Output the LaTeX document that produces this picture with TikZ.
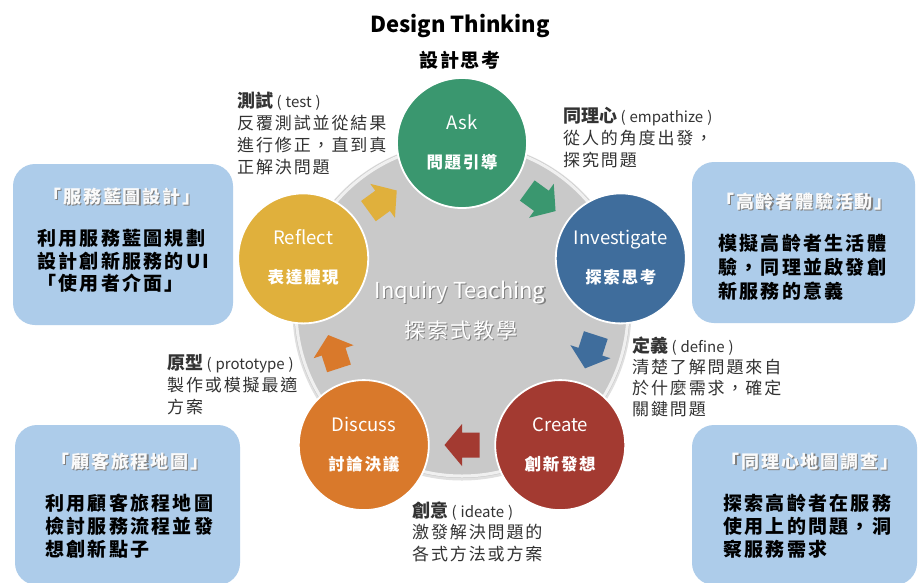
\documentclass[tikz,border=0pt]{standalone}
\usepackage{fontspec}
\setmainfont{Noto Sans CJK TC}[Script=CJK, Language=Chinese Traditional]
\newfontfamily\spcf[Script=CJK, Language=Chinese Traditional, LetterSpace=11]{Noto Sans CJK TC}
\newfontfamily\spcb[Script=CJK, Language=Chinese Traditional, LetterSpace=12]{Noto Sans CJK TC}
\newfontfamily\spct[Script=CJK, Language=Chinese Traditional, LetterSpace=10]{Noto Sans CJK TC}
\definecolor{askg}{HTML}{3A976F}
\definecolor{invb}{HTML}{3F6D9C}
\definecolor{crr}{HTML}{A33A31}
\definecolor{diso}{HTML}{D9792B}
\definecolor{refy}{HTML}{E0B03C}
\definecolor{ringg}{HTML}{C9C9C9}
\definecolor{boxb}{HTML}{ADCCEA}
\definecolor{descc}{HTML}{333333}
\newcommand\shd[2][black!50]{\makebox[0pt][l]{\hspace{1.2pt}\raisebox{-1.2pt}{\textcolor{#1}{#2}}}#2}
\tikzset{
  stage/.style={circle, draw=white, line width=1.8pt, minimum size=130pt, inner sep=0pt},
  latlbl/.style={anchor=base, text=white, inner sep=0pt, font=\fontsize{18.5}{20}\selectfont},
  cjklbl/.style={anchor=base, text=white, inner sep=0pt, font=\spct\bfseries\fontsize{16.5}{20}\selectfont},
  desc/.style={anchor=north west, align=left, inner sep=0pt, text=descc, font=\spcf\fontsize{17}{22}\selectfont},
  infobox/.style={rounded corners=22pt, fill=boxb, inner sep=0pt},
  boxtitle/.style={anchor=base, text=white!96!gray, inner sep=0pt, font=\spct\bfseries\fontsize{18}{20}\selectfont},
  boxbody/.style={anchor=north west, align=left, inner sep=0pt, text=black, font=\spcb\bfseries\fontsize{19}{23}\selectfont},
  pics/barrow/.style={code={\fill[#1] (-17.5,-12.5) -- (0,-12.5) -- (0,-21) -- (17.5,0) -- (0,21) -- (0,12.5) -- (-17.5,12.5) -- cycle;}}
}
\newcommand\hd[2]{{\rmfamily\bfseries\fontsize{18}{22}\selectfont #1}{\rmfamily\fontsize{15}{22}\selectfont\ (\hspace{4pt}#2\hspace{4pt})}}
\begin{document}
\begin{tikzpicture}[x=1pt,y=-1pt]
\fill[white] (0,0) rectangle (923,582);
\useasboundingbox (0,0) rectangle (923,582);
\clip (0,0) rectangle (923,582);

% titles
\node[anchor=base, inner sep=0pt, font=\bfseries\fontsize{22}{24}\selectfont] (title) at (460,32) {Design Thinking};
\node[anchor=base, inner sep=0pt, font=\spct\bfseries\fontsize{19}{22}\selectfont] (subtitle) at (460,67) {設計思考};

% background ring
\fill[black!12] (462,311) circle[radius=169.5];
\fill[ringg] (462,310) circle[radius=168];
\draw[white!88!gray, line width=3pt] (462,310) circle[radius=166];

\node[anchor=base, inner sep=0pt, text=white, font=\fontsize{22}{26}\selectfont] (inq) at (460,298) {\shd{Inquiry Teaching}};
\node[anchor=base, inner sep=0pt, text=white, font=\spct\fontsize{21}{24}\selectfont] (inqzh) at (461,338) {\shd{探索式教學}};

% arrows
\pic[rotate=36] (arrY) at (382.6,200.8) {barrow=refy};
\pic[rotate=-36] (arrG) at (541.4,200.8) {barrow=askg};
\pic[rotate=-108] (arrB) at (590.4,351.7) {barrow=invb};
\pic[rotate=180] (arrR) at (462,445) {barrow=crr};
\pic[rotate=108] (arrO) at (333.6,351.7) {barrow=diso};

% stages
\node[stage, fill=askg] (ask) at (462,143) {};
\node[stage, fill=invb] (inv) at (620.8,258.4) {};
\node[stage, fill=crr] (cre) at (560.2,445.1) {};
\node[stage, fill=diso] (dis) at (363.8,445.1) {};
\node[stage, fill=refy] (ref) at (303.2,258.4) {};

\node[latlbl] (askL) at ([yshift=13.5pt]ask.center) {Ask};
\node[cjklbl] (askZ) at ([yshift=-25pt]ask.center) {問題引導};
\node[latlbl] (invL) at ([yshift=13.5pt]inv.center) {Investigate};
\node[cjklbl] (invZ) at ([yshift=-25pt]inv.center) {探索思考};
\node[latlbl] (creL) at ([yshift=13.5pt]cre.center) {Create};
\node[cjklbl] (creZ) at ([yshift=-25pt]cre.center) {創新發想};
\node[latlbl] (disL) at ([yshift=13.5pt]dis.center) {Discuss};
\node[cjklbl] (disZ) at ([yshift=-25pt]dis.center) {討論決議};
\node[latlbl] (refL) at ([yshift=13.5pt]ref.center) {Reflect};
\node[cjklbl] (refZ) at ([yshift=-25pt]ref.center) {表達體現};

% descriptions
\node[desc] (dtest) at (237,91.5) {\hd{測試}{test}\\反覆測試並從結果\\進行修正，直到真\\正解決問題};
\node[desc] (demp) at (563,106.5) {\hd{同理心}{empathize}\\從人的角度出發，\\探究問題};
\node[desc, font=\spcf\fontsize{17}{21}\selectfont] (ddef) at (632,336.5) {\hd{定義}{define}\\清楚了解問題來自\\於什麼需求，確定\\關鍵問題};
\node[desc, font=\spcf\fontsize{17}{21.5}\selectfont] (dide) at (412,501.5) {\hd{創意}{ideate}\\激發解決問題的\\各式方法或方案};
\node[desc] (dpro) at (167,354.5) {\hd{原型}{prototype}\\製作或模擬最適\\方案};

% info boxes
\node[infobox, minimum width=220pt, minimum height=161pt] (box1) at (123,244.5) {};
\node[infobox, minimum width=223pt, minimum height=161pt] (box2) at (803.5,242.5) {};
\node[infobox, minimum width=225pt, minimum height=160pt] (box3) at (127.5,505) {};
\node[infobox, minimum width=225pt, minimum height=160pt] (box4) at (804.5,505) {};

\node[boxtitle] (b1t) at (122,203.5) {\shd{「服務藍圖設計」}};
\node[boxbody, font=\spcb\bfseries\fontsize{19}{22.5}\selectfont] (b1b) at (37,229.5) {利用服務藍圖規劃\\設計創新服務的UI\\「使用者介面」};
\node[boxtitle] (b2t) at (804.5,208.5) {\shd{「高齡者體驗活動」}};
\node[boxbody, font=\spcb\bfseries\fontsize{19}{24}\selectfont] (b2b) at (718,233.5) {模擬高齡者生活體\\驗，同理並啟發創\\新服務的意義};
\node[boxtitle] (b3t) at (130,468.5) {\shd{「顧客旅程地圖」}};
\node[boxbody] (b3b) at (45,493.5) {利用顧客旅程地圖\\檢討服務流程並發\\想創新點子};
\node[boxtitle] (b4t) at (810,468.5) {\shd{「同理心地圖調查」}};
\node[boxbody] (b4b) at (723,493.5) {探索高齡者在服務\\使用上的問題，洞\\察服務需求};
\end{tikzpicture}
\end{document}
